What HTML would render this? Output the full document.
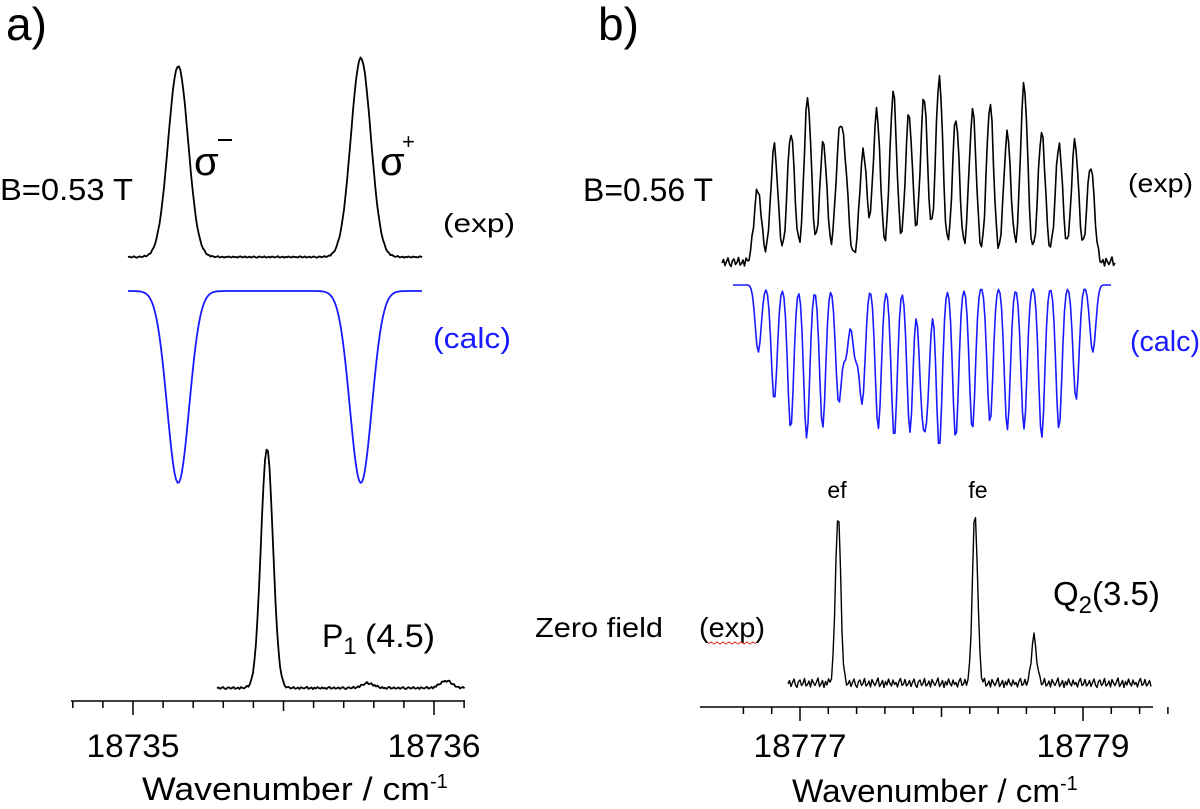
<!DOCTYPE html>
<html><head><meta charset="utf-8"><style>
html,body{margin:0;padding:0;background:#fff;}
svg{display:block;font-family:"Liberation Sans",sans-serif;}
</style></head><body>
<svg id="fig" width="1200" height="809" viewBox="0 0 1200 809">
<g id="axes"></g>
<g id="traces"></g>
<g id="labels" fill="#000">
<text x="6" y="40" font-size="46">a)</text>
<text x="598" y="40" font-size="46">b)</text>
<text x="0" y="200" font-size="31" textLength="133" lengthAdjust="spacingAndGlyphs">B=0.53 T</text>
<text x="194" y="175" font-size="40">σ</text>
<line x1="218" y1="140" x2="232" y2="140" stroke="#000" stroke-width="2"/>
<text x="380" y="175" font-size="40">σ</text>
<text x="402" y="149" font-size="22">+</text>
<text x="443" y="232" font-size="26" textLength="72" lengthAdjust="spacingAndGlyphs">(exp)</text>
<text x="433" y="348" font-size="29" fill="#1a1aff" textLength="78" lengthAdjust="spacingAndGlyphs">(calc)</text>
<text x="322" y="647" font-size="32">P<tspan font-size="24" dy="7">1</tspan><tspan dy="-7" x="365" textLength="70" lengthAdjust="spacingAndGlyphs">(4.5)</tspan></text>
<text x="583" y="201" font-size="32" textLength="130" lengthAdjust="spacingAndGlyphs">B=0.56 T</text>
<text x="1128" y="192" font-size="26" textLength="65" lengthAdjust="spacingAndGlyphs">(exp)</text>
<text x="1130" y="351" font-size="29" fill="#1a1aff" textLength="70" lengthAdjust="spacingAndGlyphs">(calc)</text>
<text x="837" y="498" font-size="23" text-anchor="middle">ef</text>
<text x="978" y="498" font-size="23" text-anchor="middle">fe</text>
<text x="1053" y="605" font-size="33">Q<tspan font-size="24" dy="8">2</tspan><tspan dy="-8">(3.5)</tspan></text>
<text x="535" y="637" font-size="28" textLength="128" lengthAdjust="spacingAndGlyphs">Zero field</text>
<text x="699" y="637" font-size="28" textLength="66" lengthAdjust="spacingAndGlyphs">(exp)</text>
<path d="M708 644 l3 -2 l3 2 l3 -2 l3 2 l3 -2 l3 2 l3 -2 l3 2 l3 -2 l3 2 l3 -2 l3 2 l3 -2 l3 2 l3 -2 l3 2" fill="none" stroke="#e03030" stroke-width="1"/>
<text x="142" y="800" font-size="32"><tspan textLength="288" lengthAdjust="spacingAndGlyphs">Wavenumber / cm</tspan><tspan font-size="20" dy="-12">-1</tspan></text>
<text x="792" y="802" font-size="32"><tspan textLength="268" lengthAdjust="spacingAndGlyphs">Wavenumber / cm</tspan><tspan font-size="20" dy="-12">-1</tspan></text>
</g>
</svg>
<script>
// ---- data ----
const ticksA = [18734.8,18734.9,18735.0,18735.1,18735.2,18735.3,18735.4,18735.5,18735.6,18735.7,18735.8,18735.9,18736.0,18736.1];
const tickLabelsA = ["18735","18736"];
const ticksB = [18776.6,18776.8,18777.0,18777.2,18777.4,18777.6,18777.8,18778.0,18778.2,18778.4,18778.6,18778.8,18779.0,18779.2,18779.4,18779.6];
const tickLabelsB = ["18777","18779"];

const expA_pos = [18735.150, 18735.757];
const expA_int = [0.955, 0.995];
const calcA_pos = [18735.150, 18735.757];
const calcA_int = [1.0, 1.0];
const p1_pos = [18735.445, 18735.781, 18736.040];
const p1_int = [1.0, 0.02, 0.03];

const expB_pos = [18776.701,18776.818,18776.936,18777.054,18777.165,18777.276,18777.318,18777.447,18777.542,18777.659,18777.770,18777.876,18777.984,18778.102,18778.220,18778.343,18778.465,18778.583,18778.708,18778.830,18778.943,18779.054];
const expB_int = [0.39,0.605,0.69,0.865,0.63,0.58,0.425,0.59,0.80,0.89,0.78,0.875,0.975,0.755,0.80,0.83,0.68,0.94,0.69,0.625,0.63,0.515];
const calcB_pos = [18776.705,18776.818,18776.934,18777.047,18777.160,18777.273,18777.325,18777.389,18777.440,18777.553,18777.666,18777.777,18777.862,18777.898,18777.984,18778.100,18778.218,18778.343,18778.465,18778.583,18778.708,18778.830,18778.951,18779.069];
const calcB_int = [0.42,0.72,0.90,0.956,0.894,0.72,0.42,0.42,0.72,0.90,0.956,0.92,0.66,0.66,1.02,0.96,0.906,0.86,0.906,0.90,0.956,0.90,0.72,0.42];
const zero_pos = [18777.269, 18778.237, 18778.654];
const zero_int = [1.0, 1.0, 0.27];
const noise = [0.2,-0.5,0.7,-0.1,-0.8,0.4,0.9,-0.3,-0.6,0.5,0.1,-0.9,0.6,0.3,-0.4,0.8,-0.7,0.0,0.5,-0.2,-1.0,0.7,0.2,-0.5,0.9,-0.3,0.4,-0.8,0.1,0.6,-0.6,0.3,-0.1,0.8,-0.4,-0.9,0.5,0.2,-0.7,0.6];

// ---- axis functions ----
const xA = w => 133 + (w - 18735) * 301;
const xB = w => 800 + (w - 18777) * 141.5;
const NS = "http://www.w3.org/2000/svg";
const axesG = document.getElementById('axes');
const trG = document.getElementById('traces');

function mk(tag, attrs, parent){
  const e = document.createElementNS(NS, tag);
  for (const k in attrs) e.setAttribute(k, attrs[k]);
  parent.appendChild(e);
  return e;
}

function axis(ticks, labels, xf, y, x0, x1, majors, mids, name){
  const l = mk('line',{x1:x0,y1:y,x2:x1,y2:y,stroke:'#000','stroke-width':1.5},axesG);
  
  
  ticks.forEach(t=>{
    const isMaj = majors.some(m=>Math.abs(m-t)<1e-6);
    const isMid = mids.some(m=>Math.abs(m-t)<1e-6);
    const len = isMaj?14:(isMid?10:7);
    const tk = mk('line',{x1:xf(t),y1:y,x2:xf(t),y2:y+len,stroke:'#000','stroke-width':1.5},axesG);
    
    
  });
  labels.forEach(s=>{
    const tx = mk('text',{x:xf(parseFloat(s)),y:757,'font-size':32,'text-anchor':'middle',textLength:93,lengthAdjust:'spacingAndGlyphs'},axesG);
    tx.textContent = s;
    
    
  });
}
axis(ticksA, tickLabelsA, xA, 701, 71, 465, [18735,18736], [18735.5], 'x-axis-a');
axis(ticksB, tickLabelsB, xB, 707, 700, 1153, [18777,18779], [18778], 'x-axis-b');

function trace(xf, x0, x1, base, amp, pos, inten, sig, noiseAmp, color, name, widthPx){
  const pts = [];
  let i = 0;
  for (let x = x0; x <= x1; x += 1.5, i++){
    let s = 0;
    pos.forEach((p,k)=>{ const d = x - xf(p); s += inten[k]*Math.exp(-d*d/(2*sig*sig)); });
    const y = base - amp*s + noiseAmp*noise[i % noise.length];
    pts.push(x.toFixed(1)+','+y.toFixed(1));
  }
  const pl = mk('polyline',{points:pts.join(' '),fill:'none',stroke:color,'stroke-width':widthPx||1.8,'stroke-linejoin':'round'},trG);
  
  
}
trace(xA, 128, 423, 257, 200, expA_pos, expA_int, 10, 0.8, '#000', 'exp-trace-a');
trace(xA, 128, 423, 291, -192, calcA_pos, calcA_int, 11, 0, '#1a1aff', 'calc-trace-a');
trace(xA, 217, 465, 688, 240, p1_pos, p1_int, 6, 1.2, '#000', 'p1-trace');
trace(xB, 722, 1115, 262, 190, expB_pos, expB_int, 3.6, 5, '#000', 'exp-trace-b', 1.6);
trace(xB, 733, 1112, 285, -160, calcB_pos, calcB_int, 3, 0, '#1a1aff', 'calc-trace-b', 1.6);
trace(xB, 788, 1152, 683, 170, zero_pos, zero_int, 2.6, 5, '#000', 'zero-field-trace', 1.4);
</script>
</body></html>
